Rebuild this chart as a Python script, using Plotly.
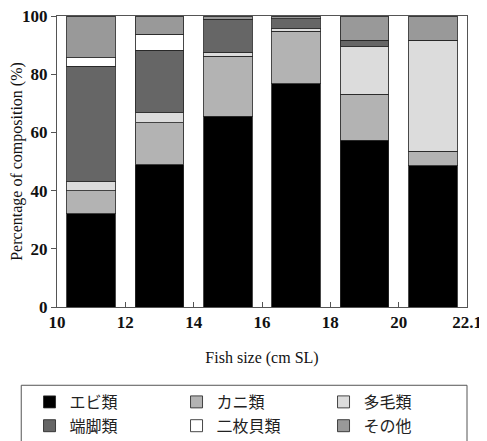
import plotly.graph_objects as go

bins = ["10-12", "12-14", "14-16", "16-18", "18-20", "20-22.1"]
edge_labels = ["10", "12", "14", "16", "18", "20", "22.1"]

ebi = [32.0, 48.8, 65.5, 76.7, 57.3, 48.6]        # エビ類
kani = [8.0, 14.6, 20.7, 18.0, 15.8, 5.0]         # カニ類
tamou = [3.0, 3.4, 1.4, 1.0, 16.4, 38.0]          # 多毛類
tankyaku = [39.7, 21.4, 11.3, 3.4, 2.1, 0.0]      # 端脚類
nimaigai = [3.0, 5.6, 0.0, 0.0, 0.0, 0.0]         # 二枚貝類
sonota = [14.3, 6.2, 1.1, 0.9, 8.4, 8.4]          # その他

series = [
    ("エビ類", ebi, "#000000"),
    ("カニ類", kani, "#b3b3b3"),
    ("多毛類", tamou, "#dcdcdc"),
    ("端脚類", tankyaku, "#666666"),
    ("二枚貝類", nimaigai, "#ffffff"),
    ("その他", sonota, "#999999"),
]

xpos = [i + 0.5 for i in range(len(bins))]

fig = go.Figure()
for name, vals, col in series:
    fig.add_trace(go.Bar(
        x=xpos, y=vals, name=name, width=0.71,
        marker=dict(color=col, line=dict(color="rgba(40,40,40,0.85)", width=1)),
    ))

serif = "Liberation Serif"
W, H = 479, 433
fig.update_layout(
    barmode="stack",
    width=W, height=H,
    margin=dict(l=49, r=20, t=8, b=134, autoexpand=False),
    plot_bgcolor="white", paper_bgcolor="white",
    showlegend=True,
    legend=dict(
        orientation="h", xref="paper", yref="paper",
        x=-0.067, y=-0.268, xanchor="left", yanchor="top",
        entrywidth=102, entrywidthmode="pixels",
        borderwidth=0, bgcolor="rgba(0,0,0,0)",
        font=dict(family="Noto Sans CJK JP", size=16, color="#222222"),
        traceorder="normal",
    ),
    shapes=[dict(type="rect", xref="paper", yref="paper",
                 x0=-0.0872, x1=1.0, y0=-0.49, y1=-0.269,
                 line=dict(color="#555555", width=1), fillcolor="rgba(0,0,0,0)",
                 layer="above")],
    xaxis=dict(
        range=[0, 6], tickmode="array", tickvals=list(range(7)), ticktext=edge_labels,
        ticks="inside", ticklen=5, tickcolor="#555555",
        showline=True, linecolor="#555555", linewidth=1, mirror=True,
        showgrid=False, zeroline=False, automargin=False, ticklabeloverflow="allow",
        tickfont=dict(family=serif, size=17, color="#111111", weight="bold"),
        title=dict(text="Fish size (cm SL)", font=dict(family=serif, size=16, color="#111111"), standoff=20),
    ),
    yaxis=dict(
        range=[0, 100], tickvals=[0, 20, 40, 60, 80, 100],
        ticks="outside", ticklen=5, tickcolor="#555555",
        showline=True, linecolor="#555555", linewidth=1, mirror=True,
        showgrid=False, zeroline=False, automargin=False, ticklabeloverflow="allow",
        tickfont=dict(family=serif, size=17, color="#111111", weight="bold"),
        title=dict(text="Percentage of composition (%)", font=dict(family=serif, size=16, color="#111111"), standoff=1),
    ),
)

fig.write_html("out.html")
